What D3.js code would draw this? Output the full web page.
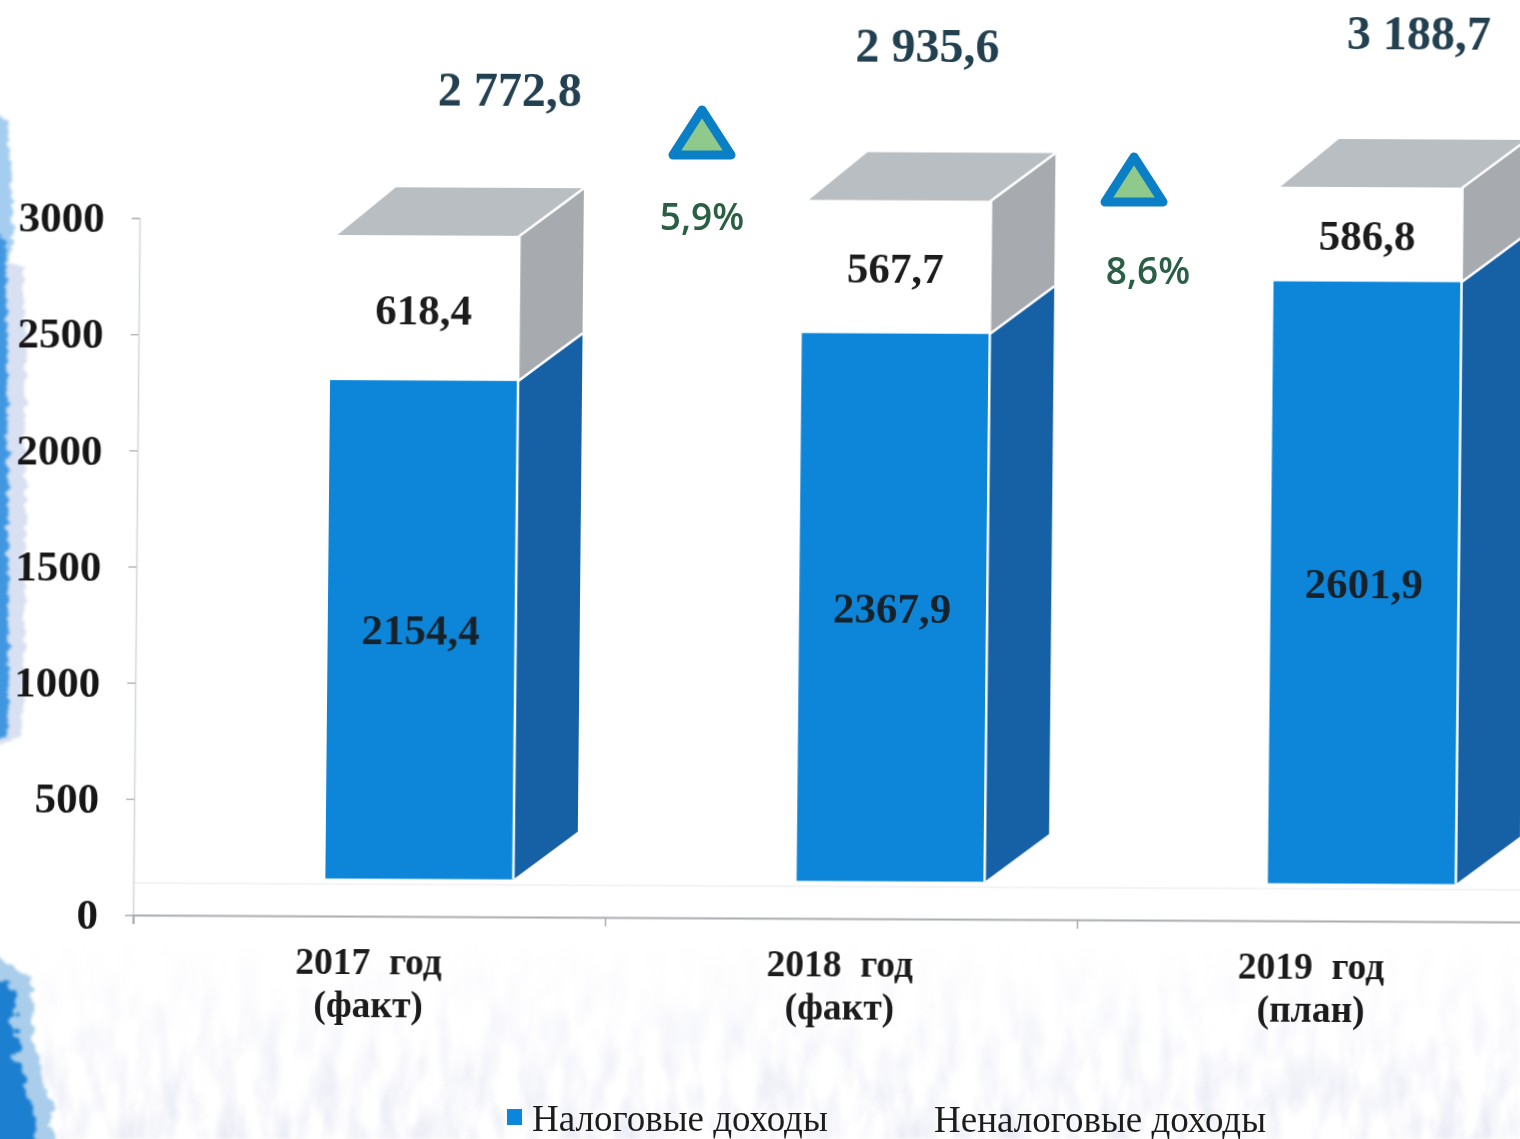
<!DOCTYPE html>
<html><head><meta charset="utf-8">
<script src="https://cdnjs.cloudflare.com/ajax/libs/d3/7.8.5/d3.min.js"></script>
<style>html,body{margin:0;padding:0;background:#fff}svg{display:block}
text{font-family:"Liberation Serif",serif;font-weight:700;fill:#1a1a1a}</style></head><body>
<svg id="c" width="1520" height="1139"></svg>
<script>
const categories = ["2017  год|(факт)", "2018  год|(факт)", "2019  год|(план)"];
const taxIncome = [2154.4, 2367.9, 2601.9];
const nonTaxLabels = ["618,4", "567,7", "586,8"];
const nonTaxDrawnHeight = [618.4, 567.7, 400];
const totalLabels = ["2 772,8", "2 935,6", "3 188,7"];
const growthLabels = ["5,9%", "8,6%"];
const yTicks = [0, 500, 1000, 1500, 2000, 2500, 3000];
const legendLabels = ["Налоговые доходы", "Неналоговые доходы"];

const fmt = v => String(v).replace(".", ",");
const svg = d3.select("#c");
const defs = svg.append("defs");

// scanned paper background
const rough = defs.append("filter").attr("id","rough").attr("x","-60%").attr("y","-5%").attr("width","220%").attr("height","110%");
rough.append("feTurbulence").attr("type","fractalNoise").attr("baseFrequency","0.01 0.12").attr("numOctaves",3).attr("seed",4).attr("result","n");
rough.append("feDisplacementMap").attr("in","SourceGraphic").attr("in2","n").attr("scale",12).attr("xChannelSelector","R").attr("yChannelSelector","G");
rough.append("feGaussianBlur").attr("stdDeviation",1.8);
const rough2 = defs.append("filter").attr("id","rough2").attr("x","-40%").attr("y","-10%").attr("width","180%").attr("height","120%");
rough2.append("feTurbulence").attr("type","fractalNoise").attr("baseFrequency",0.06).attr("numOctaves",3).attr("seed",7).attr("result","n");
rough2.append("feDisplacementMap").attr("in","SourceGraphic").attr("in2","n").attr("scale",24);
rough2.append("feGaussianBlur").attr("stdDeviation",1.6);
const wm = defs.append("filter").attr("id","wm").attr("x","0").attr("y","0").attr("width","100%").attr("height","100%");
wm.append("feTurbulence").attr("type","fractalNoise").attr("baseFrequency","0.05 0.018").attr("numOctaves",4).attr("seed",9);
wm.append("feColorMatrix").attr("type","matrix").attr("values","0 0 0 0 0.74  0 0 0 0 0.76  0 0 0 0 0.88  1.9 0 0 0 -0.72");
wm.append("feGaussianBlur").attr("stdDeviation",1.5);
const fade = defs.append("linearGradient").attr("id","fade").attr("x1",0).attr("y1",0).attr("x2",0).attr("y2",1);
fade.append("stop").attr("offset",0).attr("stop-color","#fff").attr("stop-opacity",0);
fade.append("stop").attr("offset",0.7).attr("stop-color","#fff").attr("stop-opacity",0.75);
fade.append("stop").attr("offset",1).attr("stop-color","#fff").attr("stop-opacity",1);
defs.append("mask").attr("id","fadeMask").append("rect").attr("x",0).attr("y",940).attr("width",1520).attr("height",199).attr("fill","url(#fade)");
const soft = defs.append("filter").attr("id","soft").attr("x","-2%").attr("y","-2%").attr("width","104%").attr("height","104%");
soft.append("feGaussianBlur").attr("stdDeviation",0.55);

svg.append("rect").attr("width",1520).attr("height",1139).attr("fill","#ffffff");
svg.append("g").attr("mask","url(#fadeMask)").append("rect").attr("x",30).attr("y",940).attr("width",1490).attr("height",199).attr("filter","url(#wm)").attr("opacity",0.85);

const edge = svg.append("g");
edge.append("path").attr("filter","url(#rough)").attr("d","M-30,240 L24,270 L26,520 L22,735 L-30,760 Z").attr("fill","#d8e0f1");
edge.append("path").attr("filter","url(#rough)").attr("d","M-30,100 L8,120 L14,240 L8,260 L-30,260 Z").attr("fill","#a5cdf0");
edge.append("path").attr("filter","url(#rough)").attr("d","M-30,215 L6,240 L8,500 L8,735 L-30,748 Z").attr("fill","#3f97e0");
edge.append("path").attr("filter","url(#rough2)").attr("d","M-30,945 L30,975 L34,1040 L50,1100 L56,1160 L-30,1160 Z").attr("fill","#a9cdea");
edge.append("path").attr("filter","url(#rough2)").attr("d","M-30,975 L14,985 L18,1060 L34,1110 L40,1160 L-30,1160 Z").attr("fill","#1c7fd0");

// chart frame: the scan is slightly sheared, pivot on the axis origin
const ox = 133, oy = 915, shX = 0.0095, shY = 0.005;
const g = svg.append("g").attr("filter","url(#soft)").attr("transform",
  `matrix(1 ${shY} ${-shX} 1 ${shX*oy} ${-shY*ox})`);

const x = d3.scalePoint().domain(categories).range([369, 1311.5]);
const y = d3.scaleLinear().domain([0, 3000]).range([915, 218]);
const yBar = d3.scaleLinear().domain([0, 3000]).range([915, 221]);
const barW = 188, floorLift = 37.5, topLift = 2, depthX = 64, depthY = -48;

// faint floor line
g.append("line").attr("x1",ox).attr("x2",1530).attr("y1",y(0)-32).attr("y2",y(0)-32).attr("stroke","#f0f1f5").attr("stroke-width",1.5);

// axes
const yAxis = d3.axisLeft(y).tickValues(yTicks).tickSize(8).tickPadding(27).tickFormat(d3.format("d"));
const gy = g.append("g").attr("transform",`translate(${ox},0)`).call(yAxis);
gy.selectAll("text").attr("font-size",43).style("fill","#181818");
gy.selectAll("line").attr("stroke","#b5b8bb").attr("stroke-width",1.5);
gy.select(".domain").attr("stroke","#d4d6d8").attr("stroke-width",1.5);

const xEdges = d3.scaleLinear().domain([0,3]).range([ox, ox+1416]);
const gx = g.append("g").attr("transform",`translate(0,${y(0)})`).call(
  d3.axisBottom(xEdges).tickValues([0,1,2,3]).tickSize(9).tickFormat(""));
gx.selectAll("line").attr("stroke","#a9acaf").attr("stroke-width",1.5);
gx.select(".domain").attr("stroke","#a9acaf").attr("stroke-width",2);

g.selectAll(".cat").data(categories).join("text").attr("class","cat")
  .attr("text-anchor","middle").attr("font-size",37.5)
  .selectAll("tspan").data(d => d.split("|").map(t => [d,t])).join("tspan")
  .attr("x", d => x(d[0])).attr("y",(d,i)=> y(0) + (i ? 101 : 58))
  .style("white-space","pre").text(d => d[1]);

// bars
const poly = pts => "M" + pts.map(p => p.join(",")).join("L") + "Z";
const bars = g.selectAll(".bar").data(categories.map((c,i)=>({c,i,tax:taxIncome[i],non:nonTaxDrawnHeight[i],label:nonTaxLabels[i]}))).join("g").attr("class","bar");
const L = d => x(d.c) - 44;
const base = () => yBar(0) - floorLift;
const yT = d => yBar(d.tax) - floorLift;
const yN = d => yBar(d.tax + d.non) - floorLift - topLift;

bars.append("path").attr("fill","#1560a6").attr("d", d => {
  const r=L(d)+barW, b=base();
  return poly([[r,b],[r+depthX,b+depthY],[r+depthX,yT(d)+depthY],[r,yT(d)]]);});
bars.append("path").attr("fill","#a7aaaf").attr("d", d => {
  const r=L(d)+barW;
  return poly([[r,yT(d)],[r+depthX,yT(d)+depthY],[r+depthX,yN(d)+depthY],[r,yN(d)]]);});
bars.append("path").attr("fill","#b9bec2").attr("d", d => {
  const l=L(d);
  return poly([[l+6,yN(d)],[l+barW,yN(d)],[l+barW+depthX,yN(d)+depthY],[l+depthX,yN(d)+depthY]]);});
bars.append("rect").attr("fill","#0a86da")
  .attr("x",L).attr("width",barW).attr("y",yT).attr("height",d=>base()-yT(d));
bars.append("path").attr("fill","none").attr("stroke","#ffffff").attr("stroke-width",2.5).attr("d", d => {
  const r=L(d)+barW;
  return `M${r},${base()}L${r},${yN(d)}L${r+depthX},${yN(d)+depthY}M${r},${yT(d)}L${r+depthX},${yT(d)+depthY}`;});

bars.append("text").attr("text-anchor","middle").attr("font-size",43).style("fill","#14242c")
  .attr("x", d => L(d)+barW/2-1).attr("y", d => (yT(d)+base())/2 + 15).text(d => fmt(d.tax));
bars.append("text").attr("text-anchor","middle").attr("font-size",43)
  .attr("x", d => L(d)+barW/2-1).attr("y", d => (yT(d)+yN(d))/2 + 16).text(d => d.label);

// totals
const totalDX = [83, 29, 49], totalDY = [-84, -92, -92];
g.selectAll(".tot").data(totalLabels).join("text").attr("class","tot").attr("text-anchor","middle").attr("font-size",48)
  .style("fill","#234050")
  .attr("x",(d,i)=> L({c:categories[i]})+barW/2+totalDX[i])
  .attr("y",(d,i)=> yBar(taxIncome[i]+nonTaxDrawnHeight[i])-floorLift+depthY+totalDY[i]).text(d=>d);

// growth markers (not sheared)
const growthX = [702, 1134], growthTextX = [702, 1148], growthTop = [110, 157], growthTextY = [230, 284];
svg.selectAll(".tri").data(growthLabels).join("path").attr("class","tri")
  .attr("fill","#8fc98b").attr("stroke","#0b7fc6").attr("stroke-width",9).attr("stroke-linejoin","round")
  .attr("d",(d,i)=>{const c=growthX[i],t=growthTop[i];return poly([[c,t],[c+29,t+45],[c-29,t+45]]);});
svg.selectAll(".gl").data(growthLabels).join("text").attr("class","gl").attr("text-anchor","middle")
  .attr("font-size",37).style("font-family",'"Open Sans",sans-serif').style("font-weight",600).style("fill","#2a5f46")
  .attr("x",(d,i)=>growthTextX[i]).attr("y",(d,i)=>growthTextY[i]).text(d=>d);

// legend
svg.append("rect").attr("x",507).attr("y",1109).attr("width",15).attr("height",16).attr("fill","#0a86da");
svg.selectAll(".lg").data(legendLabels).join("text").attr("class","lg")
  .attr("font-size",37).style("font-weight",400).style("fill","#1c1c1c")
  .attr("x",(d,i)=>[532,934][i]).attr("y",(d,i)=>[1130.5,1132][i]).text(d=>d);
</script></body></html>
